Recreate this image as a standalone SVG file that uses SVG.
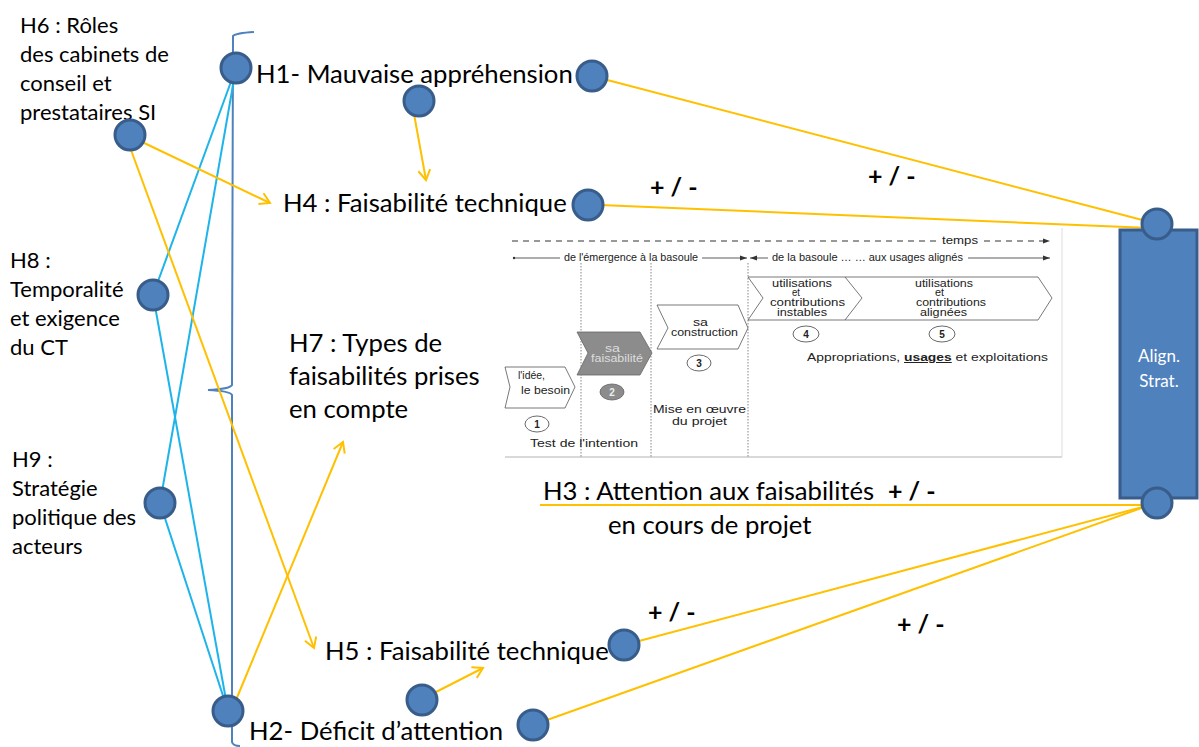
<svg xmlns="http://www.w3.org/2000/svg" width="1199" height="747" viewBox="0 0 1199 747">
<style>
.lbl{font-family:Lato,"Open Sans",sans-serif;fill:#000}
.big{font-size:25.7px}
.mid{font-size:22px}
.pm{font-family:Lato,sans-serif;font-size:25px;font-weight:bold;fill:#000}
.node{fill:#4F81BD;stroke:#385D8A;stroke-width:3}
.y{stroke:#FFC000;stroke-width:2;fill:none}
.b{stroke:#1EB4EA;stroke-width:2;fill:none}
.f{font-family:"Liberation Sans",Arial,sans-serif;font-size:10px;fill:#222}
.fc{font-family:"Liberation Sans",Arial,sans-serif;font-size:10px;fill:#222;text-anchor:middle}
.chev{fill:#fff;stroke:#555;stroke-width:0.8}
.dot{stroke:#666;stroke-width:0.8;stroke-dasharray:1.5 1.5}
.cn{fill:#fff;stroke:#444;stroke-width:0.8}
</style>
<defs>
<marker id="ya" markerWidth="14" markerHeight="14" refX="11" refY="7" orient="auto" markerUnits="userSpaceOnUse">
<path d="M1,1 L11,7 L1,13" fill="none" stroke="#FFC000" stroke-width="2"/>
</marker>
<marker id="ka" markerWidth="8" markerHeight="6" refX="7" refY="3" orient="auto" markerUnits="userSpaceOnUse">
<path d="M0,0.5 L7,3 L0,5.5 Z" fill="#333"/>
</marker>
</defs>
<rect width="1199" height="747" fill="#fff"/>

<g id="figure">
<rect x="505" y="228" width="557" height="229" fill="#fff"/>
<line x1="505" y1="457" x2="1062" y2="457" stroke="#ccc" stroke-width="1.5"/>
<line x1="1062" y1="228" x2="1062" y2="457" stroke="#ddd" stroke-width="1"/>
<line x1="512" y1="241" x2="938" y2="241" stroke="#333" stroke-dasharray="6 5" stroke-width="1"/>
<text class="f" x="942" y="244" textLength="36" lengthAdjust="spacingAndGlyphs">temps</text>
<line x1="984" y1="241" x2="1050" y2="241" stroke="#333" stroke-dasharray="6 5" stroke-width="1" marker-end="url(#ka)"/>
<circle cx="514" cy="258" r="1.2" fill="#333"/>
<line x1="514" y1="258" x2="560" y2="258" stroke="#333" stroke-width="0.8"/>
<text class="f" x="564" y="261" textLength="134" lengthAdjust="spacingAndGlyphs">de l'émergence à la basoule</text>
<line x1="702" y1="258" x2="747" y2="258" stroke="#333" stroke-width="0.8" marker-end="url(#ka)"/>
<line x1="768" y1="258" x2="750" y2="258" stroke="#333" stroke-width="0.8" marker-end="url(#ka)"/>
<text class="f" x="772" y="261" textLength="191" lengthAdjust="spacingAndGlyphs">de la basoule … … aux usages alignés</text>
<line x1="968" y1="258" x2="1050" y2="258" stroke="#333" stroke-width="0.8" marker-end="url(#ka)"/>
<line class="dot" x1="581" y1="263" x2="581" y2="457"/>
<line class="dot" x1="651" y1="263" x2="651" y2="457"/>
<line class="dot" x1="748" y1="263" x2="748" y2="457"/>
<path class="chev" d="M505,367 L565,367 L575,387 L565,408 L505,408 L510,387 Z"/>
<text class="f" x="518" y="379" textLength="27" lengthAdjust="spacingAndGlyphs">l'idée,</text>
<text class="f" x="521" y="394" textLength="49" lengthAdjust="spacingAndGlyphs">le besoin</text>
<ellipse class="cn" cx="537" cy="424" rx="12" ry="8"/>
<text class="fc" x="537" y="428" font-weight="bold" font-size="11">1</text>
<text class="f" x="530" y="447" font-size="11" textLength="108" lengthAdjust="spacingAndGlyphs">Test de l'intention</text>
<path d="M577,332 L640,332 L652,353 L640,375 L577,375 L588,353 Z" fill="#8C8C8C" stroke="#666" stroke-width="0.8"/>
<text class="f" x="605" y="352" style="fill:#ddd" textLength="15" lengthAdjust="spacingAndGlyphs">sa</text>
<text class="f" x="591" y="362" style="fill:#ddd" textLength="52" lengthAdjust="spacingAndGlyphs">faisabilité</text>
<ellipse cx="612" cy="392" rx="12" ry="8" fill="#8C8C8C" stroke="#666" stroke-width="0.8"/>
<text class="fc" x="612" y="396" font-weight="bold" font-size="11" style="fill:#eee">2</text>
<path class="chev" d="M657,305 L738,305 L748,328 L738,349 L657,349 L668,328 Z"/>
<text class="f" x="693" y="326" textLength="15" lengthAdjust="spacingAndGlyphs">sa</text>
<text class="f" x="671" y="336" textLength="67" lengthAdjust="spacingAndGlyphs">construction</text>
<ellipse class="cn" cx="699" cy="363" rx="12" ry="8"/>
<text class="fc" x="699" y="367" font-weight="bold" font-size="11">3</text>
<text class="f" x="653" y="413" font-size="11" textLength="93" lengthAdjust="spacingAndGlyphs">Mise en œuvre</text>
<text class="f" x="672" y="425" font-size="11" textLength="55" lengthAdjust="spacingAndGlyphs">du projet</text>
<path class="chev" d="M748,277 L1038,277 L1052,298 L1038,320 L748,320 L763,298 Z"/>
<path d="M845,277 L862,298 L845,320" fill="none" stroke="#555" stroke-width="0.8"/>
<text class="f" x="772" y="287" textLength="60" lengthAdjust="spacingAndGlyphs">utilisations</text>
<text class="f" x="792" y="296" textLength="8" lengthAdjust="spacingAndGlyphs">et</text>
<text class="f" x="770" y="306" textLength="75" lengthAdjust="spacingAndGlyphs">contributions</text>
<text class="f" x="777" y="316" textLength="50" lengthAdjust="spacingAndGlyphs">instables</text>
<text class="f" x="915" y="287" textLength="58" lengthAdjust="spacingAndGlyphs">utilisations</text>
<text class="f" x="935" y="296" textLength="9" lengthAdjust="spacingAndGlyphs">et</text>
<text class="f" x="916" y="306" textLength="70" lengthAdjust="spacingAndGlyphs">contributions</text>
<text class="f" x="920" y="316" textLength="47" lengthAdjust="spacingAndGlyphs">alignées</text>
<ellipse class="cn" cx="806" cy="334" rx="13" ry="8"/>
<text class="fc" x="806" y="338" font-weight="bold" font-size="11">4</text>
<ellipse class="cn" cx="942" cy="334" rx="13" ry="8"/>
<text class="fc" x="942" y="338" font-weight="bold" font-size="11">5</text>
<text class="f" x="807" y="361" font-size="11" textLength="241" lengthAdjust="spacingAndGlyphs">Appropriations, <tspan font-weight="bold" text-decoration="underline">usages</tspan> et exploitations</text>
</g>

<g id="bracket">
<path d="M254,32 Q236,33 233,36 L232,385 Q230,389 208,390 Q230,391 232,395 L232,742 Q233,746 240,746" fill="none" stroke="#4F81BD" stroke-width="2"/>
</g>

<g id="connectors">
<line class="b" x1="236" y1="68" x2="153" y2="295"/>
<line class="b" x1="236" y1="68" x2="160" y2="503"/>
<line class="b" x1="153" y1="295" x2="228" y2="711"/>
<line class="b" x1="160" y1="503" x2="228" y2="711"/>
<line class="y" x1="592" y1="76" x2="1150" y2="222"/>
<line class="y" x1="600" y1="205" x2="1150" y2="228"/>
<line class="y" x1="540" y1="505" x2="1150" y2="505"/>
<line class="y" x1="624" y1="645" x2="1150" y2="505"/>
<line class="y" x1="533" y1="725" x2="1150" y2="505"/>
<line class="y" x1="414" y1="114" x2="426" y2="180" marker-end="url(#ya)"/>
<line class="y" x1="140" y1="141" x2="270" y2="203" marker-end="url(#ya)"/>
<line class="y" x1="131" y1="150" x2="314" y2="648" marker-end="url(#ya)"/>
<line class="y" x1="236" y1="700" x2="343" y2="442" marker-end="url(#ya)"/>
<line class="y" x1="434" y1="693" x2="483" y2="668" marker-end="url(#ya)"/>
</g>

<g id="align-strat">
<rect x="1120" y="230" width="77" height="268" fill="#4F81BD" stroke="#385D8A" stroke-width="3"/>
<text x="1159" y="362" font-family="Lato,sans-serif" font-size="17" fill="#fff" text-anchor="middle">Align.</text>
<text x="1159" y="387" font-family="Lato,sans-serif" font-size="17" fill="#fff" text-anchor="middle">Strat.</text>
<circle class="node" cx="1157" cy="224" r="15"/>
<circle class="node" cx="1157" cy="503" r="15"/>
</g>

<g id="H6">
<text class="lbl mid" x="20" y="33">H6 : Rôles</text>
<text class="lbl mid" x="20" y="62">des cabinets de</text>
<text class="lbl mid" x="20" y="91">conseil et</text>
<text class="lbl mid" x="20" y="120">prestataires SI</text>
<circle class="node" cx="130" cy="135" r="15"/>
</g>
<g id="H1">
<circle class="node" cx="236" cy="68" r="15"/>
<text class="lbl big" x="256" y="83">H1- Mauvaise appréhension</text>
<circle class="node" cx="592" cy="76" r="15"/>
<circle class="node" cx="419" cy="101" r="15"/>
</g>
<g id="H4">
<text class="lbl big" x="283" y="212">H4 : Faisabilité technique</text>
<circle class="node" cx="588" cy="205" r="15"/>
<text class="pm" x="650" y="196">+ / -</text>
<text class="pm" x="868" y="185">+ / -</text>
</g>
<g id="H8">
<text class="lbl mid" x="10" y="268">H8 :</text>
<text class="lbl mid" x="10" y="297">Temporalité</text>
<text class="lbl mid" x="10" y="326">et exigence</text>
<text class="lbl mid" x="10" y="355">du CT</text>
<circle class="node" cx="153" cy="295" r="15"/>
</g>
<g id="H7">
<text class="lbl big" x="289" y="352">H7 : Types de</text>
<text class="lbl big" x="289" y="385">faisabilités prises</text>
<text class="lbl big" x="289" y="418">en compte</text>
</g>
<g id="H9">
<text class="lbl mid" x="12" y="467">H9 :</text>
<text class="lbl mid" x="12" y="496">Stratégie</text>
<text class="lbl mid" x="12" y="525">politique des</text>
<text class="lbl mid" x="12" y="554">acteurs</text>
<circle class="node" cx="160" cy="503" r="15"/>
</g>
<g id="H3">
<text class="lbl big" x="543" y="500">H3 : Attention aux faisabilités</text>
<text class="pm" x="888" y="500">+ / -</text>
<text class="lbl big" x="608" y="534">en cours de projet</text>
</g>
<g id="H5">
<text class="lbl big" x="325" y="660">H5 : Faisabilité technique</text>
<circle class="node" cx="624" cy="645" r="15"/>
<text class="pm" x="648" y="621">+ / -</text>
<text class="pm" x="897" y="633">+ / -</text>
</g>
<g id="H2">
<circle class="node" cx="228" cy="711" r="15"/>
<circle class="node" cx="422" cy="700" r="15"/>
<circle class="node" cx="533" cy="725" r="15"/>
<text class="lbl big" x="249" y="740">H2- Déficit d’attention</text>
</g>
</svg>
